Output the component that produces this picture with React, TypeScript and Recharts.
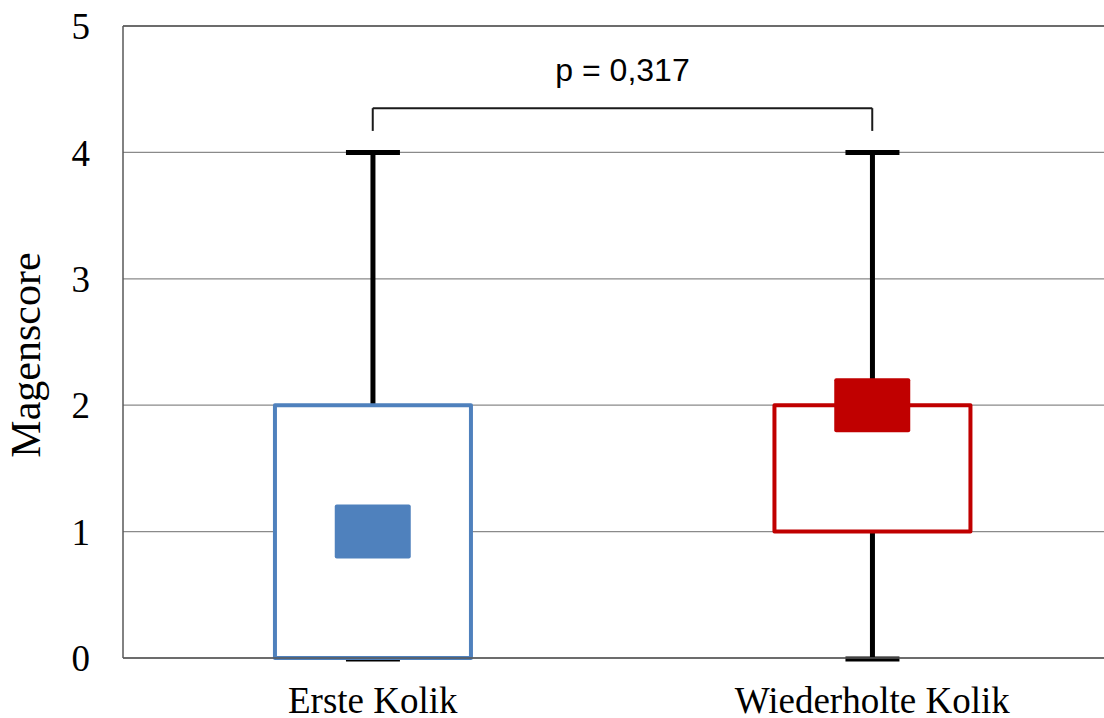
import { ComposedChart, Bar, Line, XAxis, YAxis, CartesianGrid, ReferenceLine } from "recharts";

// groups and their box-plot statistics
const categories = ["Erste Kolik", "Wiederholte Kolik"];
const minValues  = [0, 0];
const q1Values   = [0, 1];
const q3Values   = [2, 2];
const maxValues  = [4, 4];
const meanValues = [1, 2];
const yTicks     = [0, 1, 2, 3, 4, 5];

const pLabel = "p = 0,317";
const BRACKET_Y = 4.35;
const BRACKET_END_Y = 4.17;

const BOX_COLORS = ["#4F81BD", "#C00000"];
const SERIF = "'Liberation Serif', 'Times New Roman', serif";

const data = categories.map((name, i) => ({
  name,
  whisker: [minValues[i], maxValues[i]],
  box: [q1Values[i], q3Values[i]],
  mean: meanValues[i],
}));

const WhiskerShape = (props: any) => {
  const { x, y, width, height } = props;
  const cx = x + width / 2;
  const half = 27;
  return (
    <g>
      <line x1={cx} x2={cx} y1={y} y2={y + height} stroke="#000" strokeWidth={5} />
      <line x1={cx - half} x2={cx + half} y1={y} y2={y} stroke="#000" strokeWidth={5} />
      <line x1={cx - half} x2={cx + half} y1={y + height + 1} y2={y + height + 1} stroke="#000" strokeWidth={5} />
    </g>
  );
};

const BoxShape = (props: any) => {
  const { x, y, width, height, index } = props;
  const cx = x + width / 2;
  return (
    <rect x={cx - 98} y={y} width={196} height={height} fill="#fff"
      stroke={BOX_COLORS[index]} strokeWidth={4} strokeLinejoin="round" />
  );
};

const MeanDot = (props: any) => {
  const { cx, cy, index } = props;
  if (cx == null || cy == null) return null;
  return <rect key={`mean-${index}`} x={cx - 38} y={cy - 27} width={76} height={54} rx={2} fill={BOX_COLORS[index]} />;
};

const YTitle = (props: any) => {
  const { viewBox } = props;
  const cy = viewBox.y + viewBox.height / 2 + 13;
  return (
    <text x={40} y={cy} transform={`rotate(-90, 40, ${cy})`} textAnchor="middle"
      fontFamily={SERIF} fontSize={42} fill="#000">
      Magenscore
    </text>
  );
};

export default function App() {
  return (
    <div style={{ position: "absolute", left: 0, top: 0, width: 1104, height: 718, overflow: "hidden", background: "#fff" }}>
      <ComposedChart width={1122} height={718} data={data} margin={{ top: 26, right: 0, bottom: 0, left: 0 }}>
        <CartesianGrid vertical={false} stroke="#8a8a8a" strokeWidth={1.3} />
        <XAxis dataKey="name" height={60} tickLine={false} tickSize={0} tickMargin={29}
          axisLine={{ stroke: "#595959", strokeWidth: 1.5 }}
          tick={{ fill: "#000", fontSize: 37, fontFamily: SERIF }} />
        <XAxis dataKey="name" xAxisId="w" hide />
        <YAxis type="number" domain={[0, 5]} ticks={yTicks} width={123} tickLine={false} tickSize={0} tickMargin={33}
          axisLine={{ stroke: "#595959", strokeWidth: 1.5 }}
          tick={{ fill: "#000", fontSize: 37, fontFamily: SERIF }}
          label={<YTitle />} />
        <ReferenceLine y={5} stroke="#595959" strokeWidth={1.5} />

        <Bar dataKey="whisker" xAxisId="w" shape={<WhiskerShape />} isAnimationActive={false} />
        <Bar dataKey="box" shape={<BoxShape />} isAnimationActive={false} />
        <Line dataKey="mean" stroke="none" dot={<MeanDot />} activeDot={false} isAnimationActive={false} />

        {/* significance bracket */}
        <ReferenceLine segment={[{ x: categories[0], y: BRACKET_Y }, { x: categories[1], y: BRACKET_Y }]}
          stroke="#1a1a1a" strokeWidth={2}
          label={{ value: pLabel, position: "top", offset: 27, fill: "#000", fontSize: 32, fontFamily: "'Liberation Sans', Arial, sans-serif" }} />
        <ReferenceLine segment={[{ x: categories[0], y: BRACKET_Y }, { x: categories[0], y: BRACKET_END_Y }]}
          stroke="#1a1a1a" strokeWidth={2} />
        <ReferenceLine segment={[{ x: categories[1], y: BRACKET_Y }, { x: categories[1], y: BRACKET_END_Y }]}
          stroke="#1a1a1a" strokeWidth={2} />
      </ComposedChart>
    </div>
  );
}
